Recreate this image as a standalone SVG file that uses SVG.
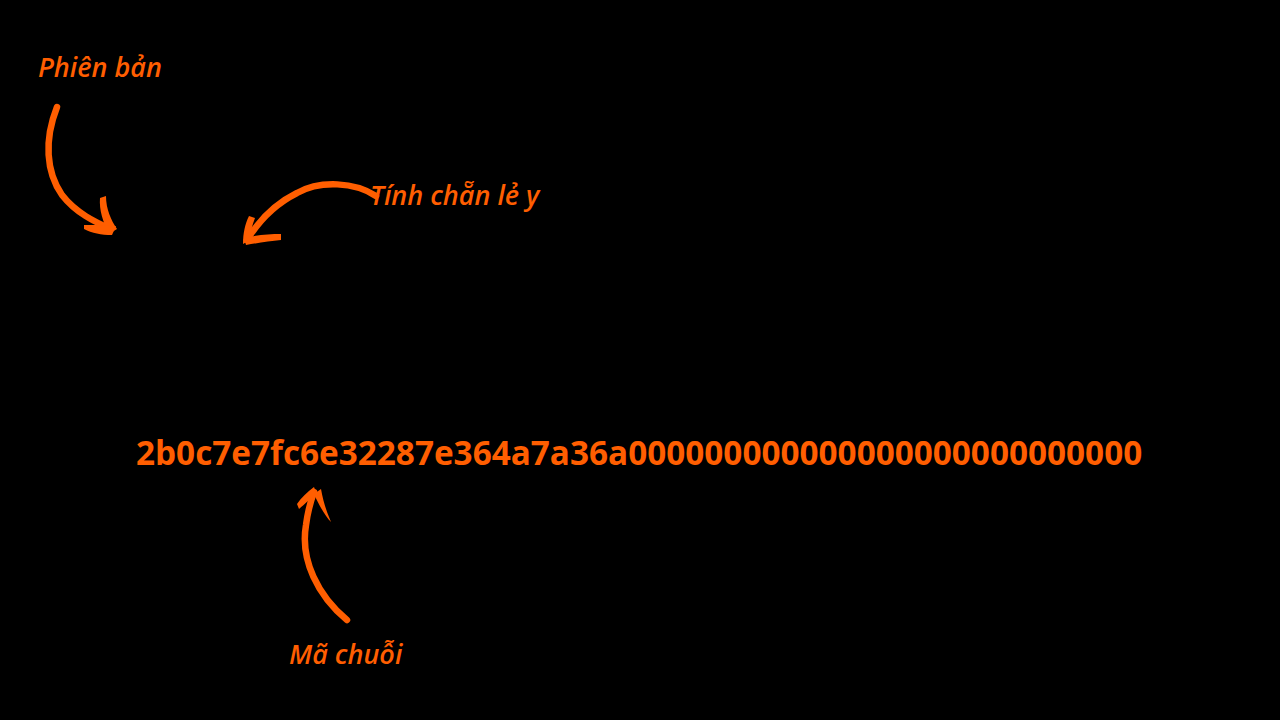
<svg xmlns="http://www.w3.org/2000/svg" width="1280" height="720" viewBox="0 0 1280 720">
<style>
.lbl{font-family:"Open Sans","Noto Sans",sans-serif;font-style:italic;font-weight:600;font-size:27px;fill:#FF5E00}
.hex{font-family:"Open Sans","Noto Sans",sans-serif;font-weight:700;font-size:33.3px;fill:#FF5E00}
.ln{fill:none;stroke:#FF5E00;stroke-width:6.5;stroke-linecap:round;stroke-linejoin:round}
.hd{fill:#FF5E00}
</style>
<rect width="1280" height="720" fill="#000"/>
<g id="key">
<text class="hex" x="136" y="465">2b0c7e7fc6e32287e364a7a36a000000000000000000000000000</text>
</g>
<g id="label-version"><text class="lbl" x="38" y="77">Phiên bản</text></g>
<g id="label-parity"><text class="lbl" x="370" y="205">Tính chẵn lẻ y</text></g>
<g id="label-chaincode"><text class="lbl" x="289" y="664">Mã chuỗi</text></g>
<g id="connectors">
<path class="ln" d="M57 107 C44 140 46 172 62 195 C76 213 95 222 111 229"/>
<path class="hd" d="M100 198 L106 196 C106 209 111 220 117 229 L109 234 C103 222 99 210 100 198 Z"/>
<path class="hd" d="M84 225 C95 225 104 225 116 226 L112 235 C101 235 92 233 84 229 Z"/>
<path class="ln" d="M376 196 C355 182 320 180 297 193 C275 204 258 222 247 240"/>
<path class="hd" d="M249 216 L255 218 C252 226 250 233 250 240 L243 244 C243 233 245 224 249 216 Z"/>
<path class="hd" d="M281 234 L281 240 C270 241 258 243 246 245 L244 238 C257 235 269 234 281 234 Z"/>
<path class="ln" d="M347 620 C318 596 300 560 306 525 C308 510 311 500 314 492"/>
<path class="hd" d="M297 504 L299 509 C305 504 310 498 317 495 L314 487 C307 492 301 498 297 504 Z"/>
<path class="hd" d="M329 517 L331 522 C325 516 319 505 314 494 L321 489 C323 500 326 510 329 517 Z"/>
</g>
</svg>
